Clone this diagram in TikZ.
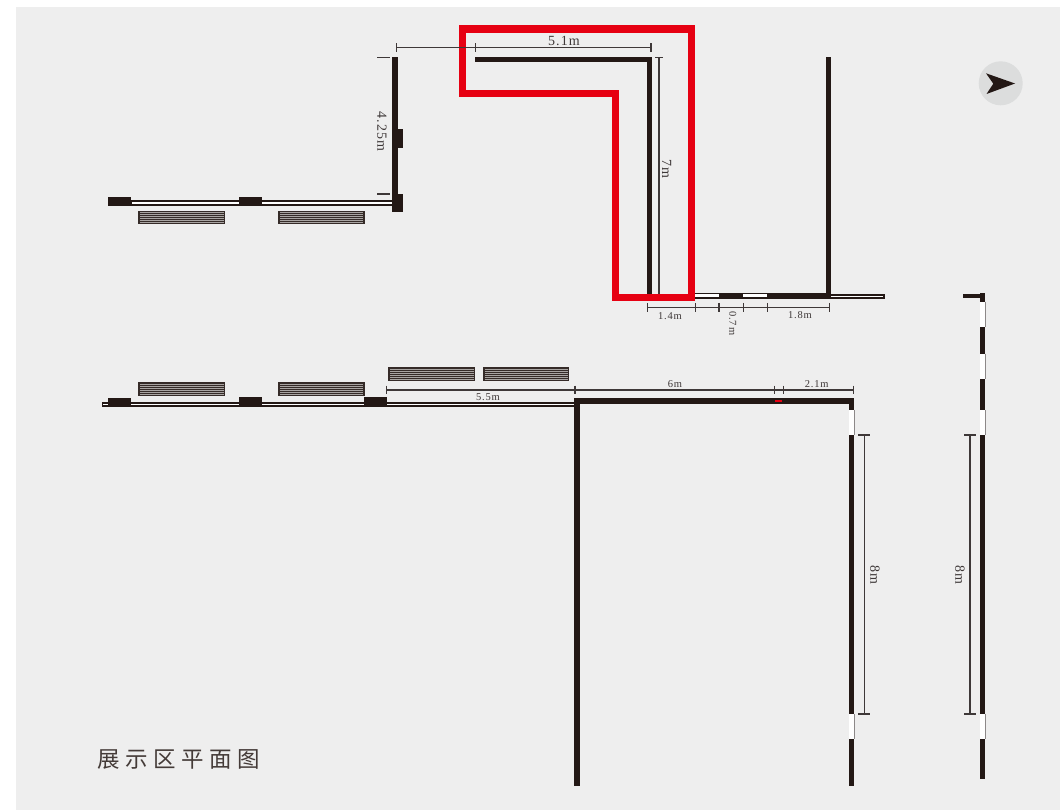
\documentclass[tikz,border=0pt]{standalone}
\usepackage{fontspec}
\setmainfont[LetterSpace=8]{Liberation Serif}
\newfontfamily\cjktitle[LetterSpace=24]{Noto Sans CJK SC}
\definecolor{pagegray}{HTML}{EEEEEE}
\definecolor{wallblack}{HTML}{231815}
\definecolor{dimgray}{HTML}{3E3838}
\definecolor{framered}{HTML}{E60012}
\definecolor{edgegray}{HTML}{8C8888}
\definecolor{benchlight}{HTML}{A8A4A2}
\definecolor{compassgray}{HTML}{DCDDDD}
\tikzset{
  x=1pt,y=-1pt,
  wallfill/.style={fill=wallblack,draw=none},
  gapfill/.style={fill=white,draw=none},
  windowbox/.style={fill=white,draw=wallblack,line width=1.5pt},
  dimline/.style={draw=dimgray,line width=1.4pt},
  thinedge/.style={draw=edgegray,line width=1pt},
  dimtext/.style={text=dimgray,inner sep=0pt},
  bigdim/.style={dimtext,font=\fontsize{14}{14}\selectfont},
  smalldim/.style={dimtext,font=\fontsize{10.5}{10.5}\selectfont},
}
\newcommand{\benchbox}[4]{%
  \fill[wallblack!92!white] (#1,#2) rectangle (#3,#4);
  \foreach \k in {1,...,6} {
    \draw[benchlight,line width=0.55pt] ({#1+1.5},{#2+\k*(#4-#2)/7}) -- ({#3-1.5},{#2+\k*(#4-#2)/7});
  }
}
\newcommand{\htick}[2]{\draw[dimline] (#1,{#2-4.3}) -- (#1,{#2+4.3});}
\begin{document}
\begin{tikzpicture}
\useasboundingbox (0,0) rectangle (1060,810);
\fill[pagegray] (16,7) rectangle (1060,810);

% compass
\fill[compassgray] (1000.7,83.3) circle (22);
\fill[wallblack] (1015,83.5) -- (986,73.3) -- (993.3,83.7) -- (986.5,94) -- cycle;

% upper left room
\fill[wallfill] (392.4,57) rectangle (397.9,212.3);
\fill[wallfill] (392.4,129.3) rectangle (402.5,147.7);
\fill[wallfill] (392.4,194) rectangle (402.5,212.3);
\draw[windowbox] (131,200.8) rectangle (393,204.8);
\fill[wallfill] (108.3,196.7) rectangle (131.3,206);
\fill[wallfill] (239.3,196.7) rectangle (262.3,206);
\benchbox{138.3}{210.7}{225}{224.5}
\benchbox{278.3}{210.7}{364.7}{224.5}

% upper centre walls
\fill[wallfill] (475,56.8) rectangle (652,62);
\fill[wallfill] (646.8,56.8) rectangle (652,298);
\fill[wallfill] (825.8,57) rectangle (831,298.7);
\fill[wallfill] (690,293.3) rectangle (831,298.7);
\fill[gapfill] (695,294.5) rectangle (719,297.5);
\fill[gapfill] (743,294.5) rectangle (767,297.5);
\draw[windowbox] (830.7,294.8) rectangle (884,297.8);

% red frame
\draw[framered,line width=7.4pt,line join=miter]
  (462.5,29) -- (691.5,29) -- (691.5,297.5) -- (615.5,297.5) -- (615.5,93.5) -- (462.5,93.5) -- cycle;

% upper dimensions
\draw[dimline] (396.7,47.7) -- (651,47.7);
\htick{396.7}{47.7}\htick{475.7}{47.7}\htick{651}{47.7}
\node[bigdim] (dimA) at (564,40.7) {5.1m};
\draw[dimline] (377,57.3) -- (390,57.3);
\draw[dimline] (377,194) -- (390,194);
\node[bigdim,rotate=-90] (dimB) at (382,131.7) {4.25m};
\draw[thinedge,draw=dimgray,line width=1.2pt] (659,57.3) -- (659,294);
\draw[dimline] (655,57.3) -- (663,57.3);
\node[bigdim,rotate=-90] (dimC) at (666.7,169) {7m};
\draw[dimline] (647.3,307.3) -- (829.5,307.3);
\htick{647.5}{307.3}\htick{695.5}{307.3}\htick{719}{307.3}\htick{743.3}{307.3}\htick{767.5}{307.3}\htick{829.3}{307.3}
\node[smalldim] (dimD) at (670,315.7) {1.4m};
\node[smalldim,rotate=-90] (dimE) at (732.7,323.3) {0.7m};
\node[smalldim] (dimF) at (800,315) {1.8m};

% lower left
\draw[windowbox] (102.4,402.8) rectangle (578,406);
\fill[wallfill] (108.3,397.7) rectangle (131.3,407.3);
\fill[wallfill] (239.3,397.3) rectangle (262.3,406.7);
\fill[wallfill] (364,397.3) rectangle (387.3,406.7);
\benchbox{138.3}{382.3}{225}{396}
\benchbox{278.3}{382.3}{364.7}{396}
\benchbox{388.3}{367}{475}{381}
\benchbox{483.3}{367}{569.3}{381}

% lower walls
\fill[wallfill] (574.4,398.1) rectangle (854.3,403.5);
\fill[wallfill] (574.4,398.1) rectangle (579.6,786);
\fill[wallfill] (848.8,398.1) rectangle (854.3,786);
\fill[framered] (775,400) rectangle (782.3,401.7);
\draw[thinedge] (854,410) -- (854,435);
\draw[thinedge] (854,714) -- (854,739);
\fill[gapfill] (848.8,410) rectangle (853.5,435);
\fill[gapfill] (848.8,714) rectangle (853.5,739);

% far right wall
\fill[wallfill] (963.3,293.8) rectangle (985.3,297.9);
\fill[wallfill] (979.8,293.5) rectangle (985.3,779.3);
\draw[thinedge] (985,301.7) -- (985,326.7);
\draw[thinedge] (985,353.7) -- (985,379);
\draw[thinedge] (985,410) -- (985,435);
\draw[thinedge] (985,714) -- (985,739);
\fill[gapfill] (979.8,301.7) rectangle (984.5,326.7);
\fill[gapfill] (979.8,353.7) rectangle (984.5,379);
\fill[gapfill] (979.8,410) rectangle (984.5,435);
\fill[gapfill] (979.8,714) rectangle (984.5,739);

% lower dimensions
\draw[dimline] (386.7,390) -- (853.3,390);
\htick{386.7}{390}\htick{575}{390}\htick{774.3}{390}\htick{783.3}{390}\htick{853.3}{390}
\node[smalldim] (dimG) at (488,397.3) {5.5m};
\node[smalldim] (dimH) at (675,384) {6m};
\node[smalldim] (dimI) at (816.7,383.7) {2.1m};
\draw[dimline] (864.3,435) -- (864.3,714);
\draw[dimline] (858.3,435) -- (870,435);
\draw[dimline] (858.3,714) -- (870,714);
\node[bigdim,rotate=-90] (dimJ) at (875,575) {8m};
\draw[dimline] (970,435) -- (970,714);
\draw[dimline] (964,435) -- (976,435);
\draw[dimline] (964,714) -- (976,714);
\node[bigdim,rotate=-90] (dimK) at (960,575) {8m};

% title
\node[inner sep=0pt,text=wallblack!85!white,font=\cjktitle\fontsize{22.5}{22.5}\selectfont] (title) at (178.5,759) {展示区平面图};
\end{tikzpicture}
\end{document}
